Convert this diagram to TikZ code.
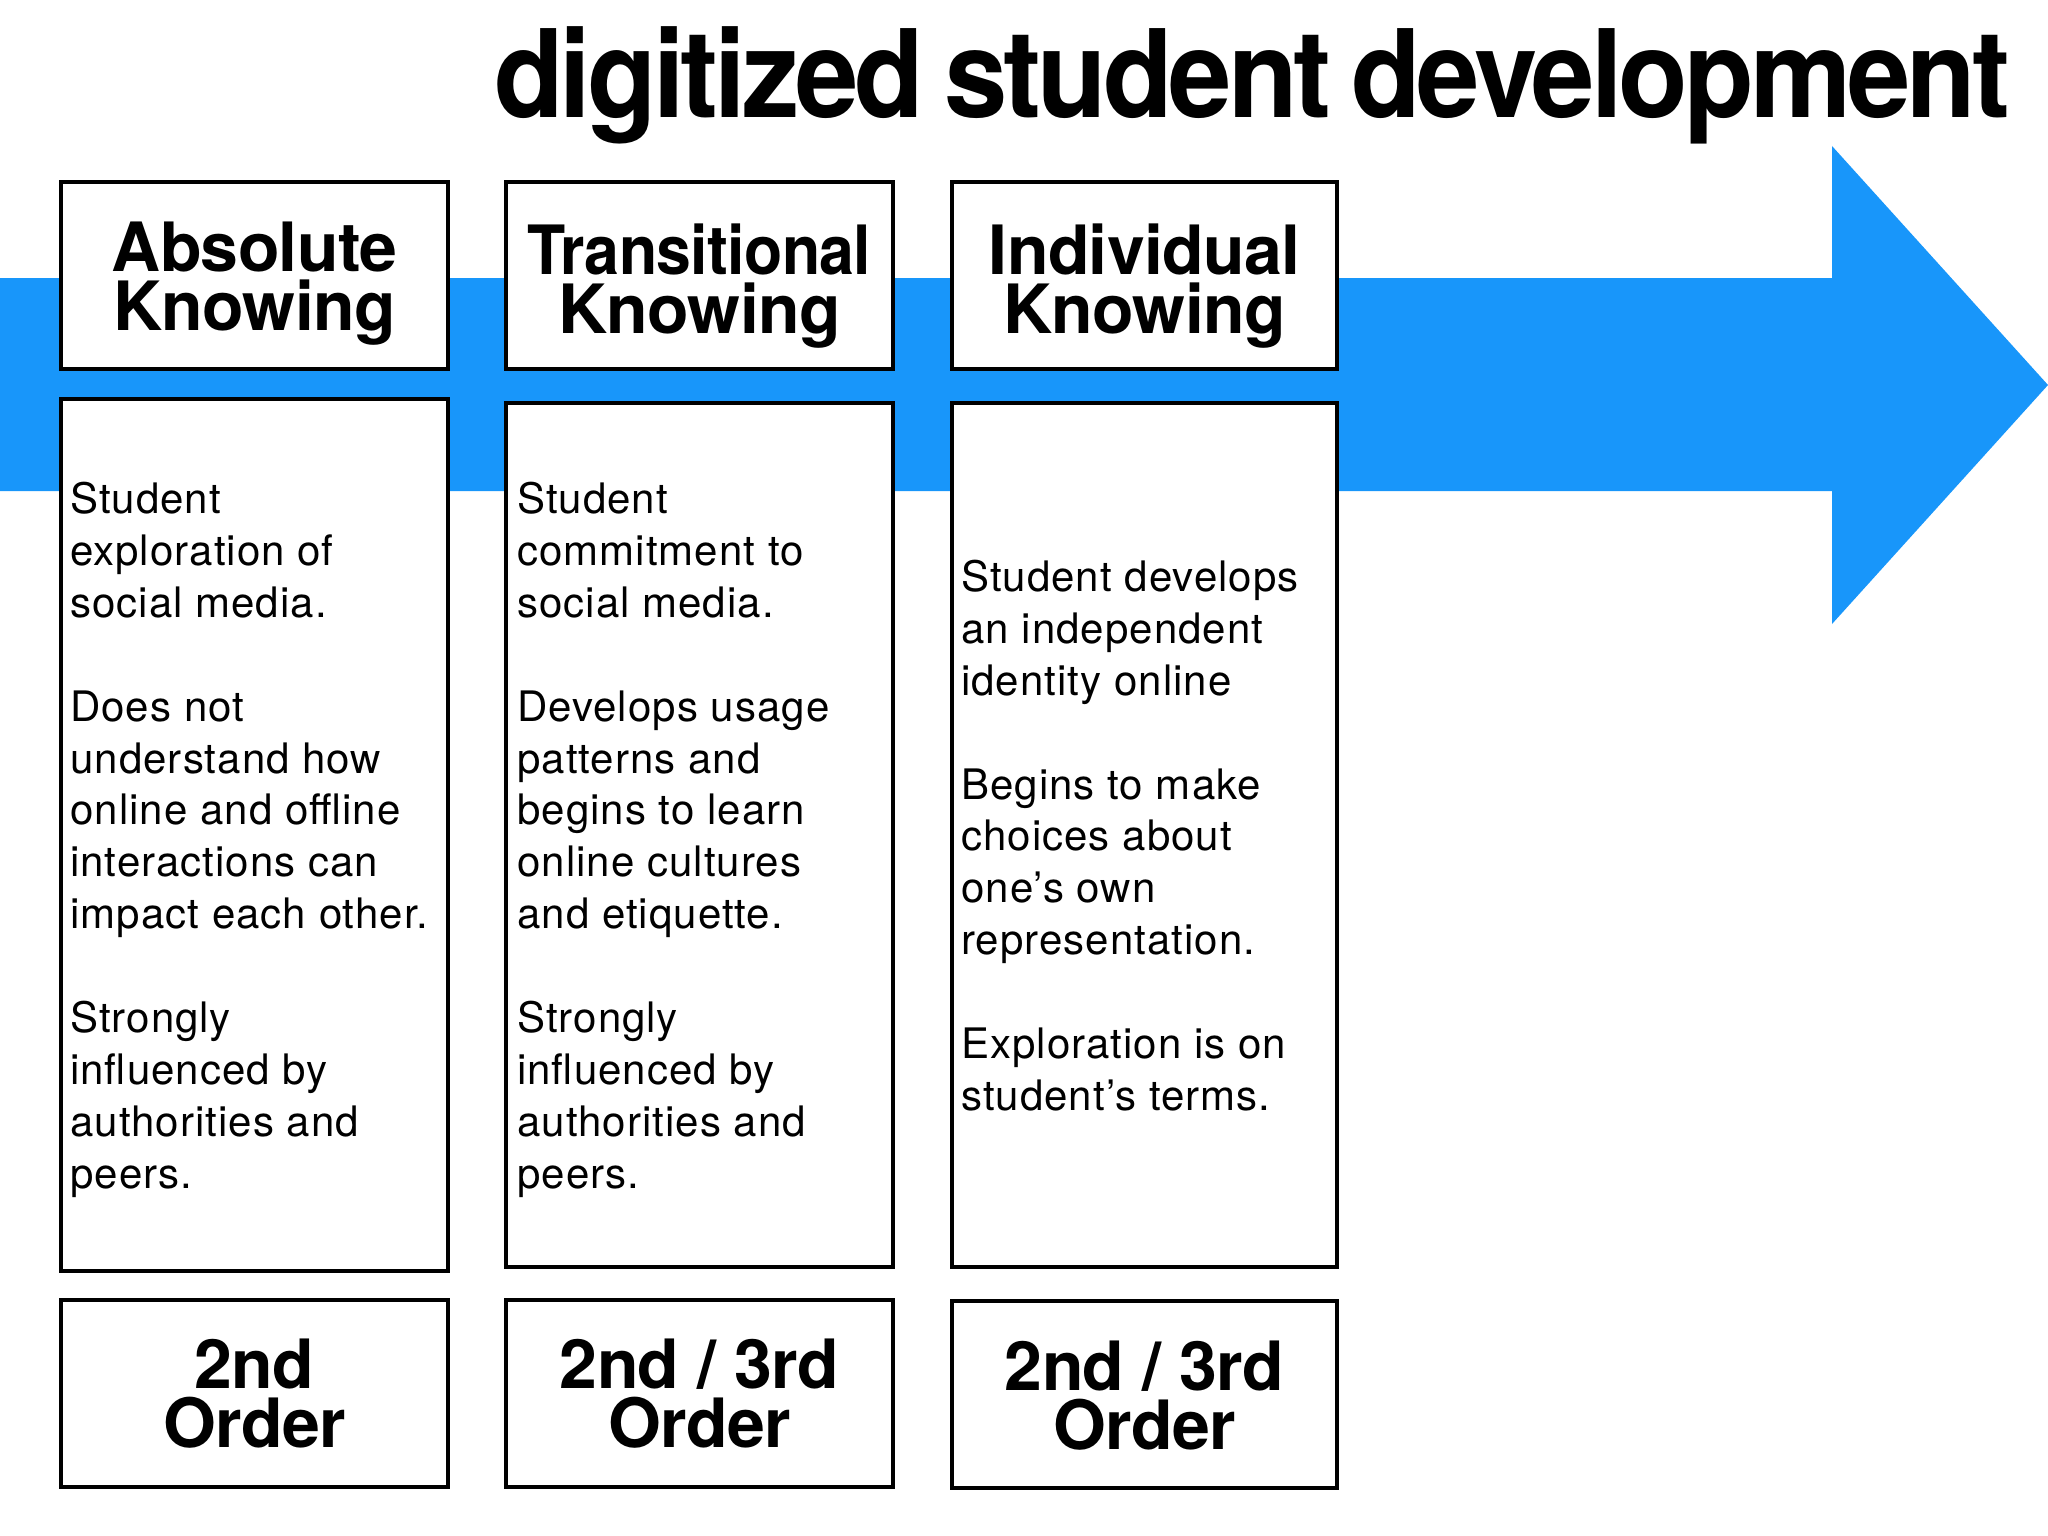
\documentclass[tikz,border=0pt]{standalone}
\usepackage{fontspec}
\setmainfont{TeX Gyre Heros}
\newfontfamily\titlefont{TeX Gyre Heros}[LetterSpace=-3.5]
\newfontfamily\headfont{TeX Gyre Heros}[LetterSpace=-1]
\newfontfamily\bodyfont{TeX Gyre Heros}[LetterSpace=2.5]
\definecolor{arrowblue}{RGB}{24,150,250}
\tikzset{
  box/.style={draw=black, line width=4pt, fill=white, inner sep=0pt, minimum width=387pt},
  headtext/.style={inner sep=0pt, anchor=north, align=center, font=\headfont\bfseries\fontsize{68}{59}\selectfont},
  bodytext/.style={inner sep=0pt, anchor=north west, align=left, font=\bodyfont\fontsize{42}{51.9}\selectfont},
}
\begin{document}
\begin{tikzpicture}[x=1pt,y=-1pt]
\useasboundingbox (0,0) rectangle (2048,1536);
% arrow
\fill[arrowblue] (0,278) -- (1832,278) -- (1832,146) -- (2048,385) -- (1832,624) -- (1832,491) -- (0,491) -- cycle;
% title
\node[anchor=base west, inner sep=0pt] (title) at (494,118)
  {\scalebox{0.934}[1]{\titlefont\bfseries\fontsize{122}{122}\selectfont digitized\hspace{21pt}student\hspace{21pt}development}};
% header boxes
\node[box, minimum height=187pt] (h1) at (254.5,275.5) {};
\node[box, minimum height=187pt] (h2) at (699.5,275.7) {};
\node[box, minimum height=187pt, minimum width=385pt] (h3) at (1144.5,275.7) {};
% text boxes
\node[box, minimum height=871.7pt] (b1) at (254.5,834.9) {};
\node[box, minimum height=864pt] (b2) at (699.5,835) {};
\node[box, minimum height=864pt, minimum width=385pt] (b3) at (1144.5,835) {};
% bottom boxes
\node[box, minimum height=187pt] (o1) at (254.5,1393.5) {};
\node[box, minimum height=187pt] (o2) at (699.5,1393.5) {};
\node[box, minimum height=187pt, minimum width=385pt] (o3) at (1144.5,1394) {};
% header texts
\node[headtext] (ht1) at (254.5,221.7) {\rule{0pt}{50pt}Absolute\\Knowing};
\node[headtext] (ht2) at (699.5,223.8) {\rule{0pt}{50pt}\scalebox{0.92}[1]{Transitional}\\Knowing};
\node[headtext] (ht3) at (1144.5,223.3) {\rule{0pt}{50pt}Individual\\Knowing};
% body texts
\node[bodytext] (bt1) at (70,473.3) {\rule{0pt}{40pt}Student\\exploration of\\social media.\\[51.9pt]Does not\\understand how\\online and offline\\interactions can\\impact each other.\\[51.9pt]Strongly\\influenced by\\authorities and\\peers.};
\node[bodytext] (bt2) at (517,473.3) {\rule{0pt}{40pt}Student\\commitment to\\social media.\\[51.9pt]Develops usage\\patterns and\\begins to learn\\online cultures\\and etiquette.\\[51.9pt]Strongly\\influenced by\\authorities and\\peers.};
\node[bodytext] (bt3) at (961,551.2) {\rule{0pt}{40pt}Student develops\\an independent\\identity online\\[51.9pt]Begins to make\\choices about\\one’s own\\representation.\\[51.9pt]Exploration is on\\student’s terms.};
% bottom texts
\node[headtext] (ot1) at (254.5,1338.3) {\rule{0pt}{50pt}2nd\\Order};
\node[headtext] (ot2) at (699.5,1338) {\rule{0pt}{50pt}2nd / 3rd\\Order};
\node[headtext] (ot3) at (1144.5,1340) {\rule{0pt}{50pt}2nd / 3rd\\Order};
\end{tikzpicture}
\end{document}
